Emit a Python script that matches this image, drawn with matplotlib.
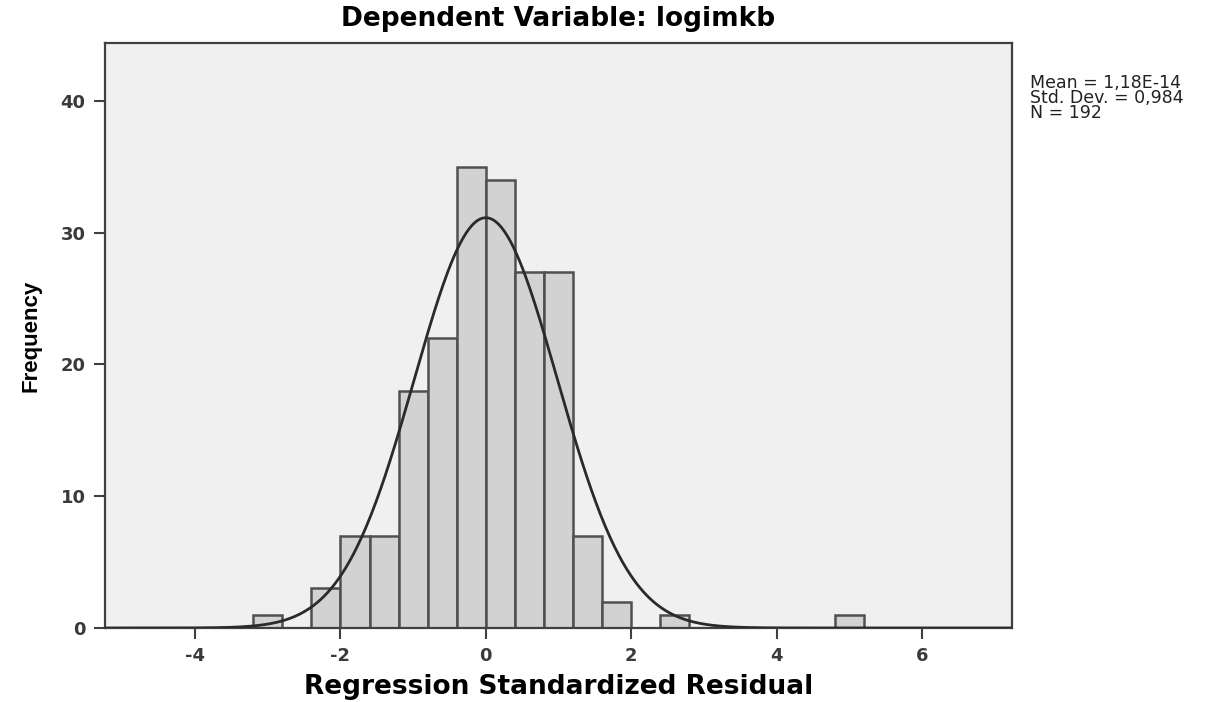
import numpy as np
import matplotlib
matplotlib.use("Agg")
import matplotlib.pyplot as plt

plt.rcParams['axes.unicode_minus'] = False

# histogram bins (left edge) and frequencies
bin_left = [-3.2, -2.4, -2.0, -1.6, -1.2, -0.8, -0.4, 0.0, 0.4, 0.8, 1.2, 1.6, 2.4, 4.8]
counts = [1, 3, 7, 7, 18, 22, 35, 34, 27, 27, 7, 2, 1, 1]
bin_width = 0.4

mean = 1.18e-14
std_dev = 0.984
n_obs = 192

x_ticks = [-4, -2, 0, 2, 4, 6]
y_ticks = [0, 10, 20, 30, 40]

fig = plt.figure(figsize=(12.31, 7.02), dpi=100)
ax = fig.add_axes([105 / 1231, 1 - 628 / 702, (1012 - 105) / 1231, (628 - 43) / 702])
ax.set_facecolor('#f0f0f0')

ax.bar(bin_left, counts, width=bin_width, align='edge',
       color='#d2d2d2', edgecolor='#505050', linewidth=1.8, zorder=2)

# fitted normal curve scaled to the histogram
xs = np.linspace(-5.3, 7.3, 600)
ys = n_obs * bin_width * np.exp(-0.5 * ((xs - mean) / std_dev) ** 2) / (std_dev * np.sqrt(2 * np.pi))
ax.plot(xs, ys, color='#2a2a2a', linewidth=2.0, zorder=3)

ax.set_xlim(-5.24, 7.24)
ax.set_ylim(0, 44.4)
ax.set_xticks(x_ticks)
ax.set_yticks(y_ticks)
ax.tick_params(direction='out', length=8, width=1.5, color='#404040',
               labelsize=13, labelcolor='#3a3a3a', pad=6)
for lbl in ax.get_xticklabels() + ax.get_yticklabels():
    lbl.set_fontweight('semibold')
for sp in ax.spines.values():
    sp.set_color('#404040')
    sp.set_linewidth(1.6)

ax.set_title('Dependent Variable: logimkb', fontsize=19, fontweight='bold', pad=12)
ax.set_xlabel('Regression Standardized Residual', fontsize=19, fontweight='bold', labelpad=6)
ax.set_ylabel('Frequency', fontsize=16, fontweight='bold', labelpad=14,
              family=['Liberation Sans Narrow', 'Liberation Sans', 'DejaVu Sans'])

fig.text(1030 / 1231, 1 - 74 / 702,
         'Mean = 1,18E-14\nStd. Dev. = 0,984\nN = 192',
         fontsize=12.5, va='top', ha='left', linespacing=0.8, color='#222222')

fig.savefig('out.png', dpi=100, facecolor='white')
